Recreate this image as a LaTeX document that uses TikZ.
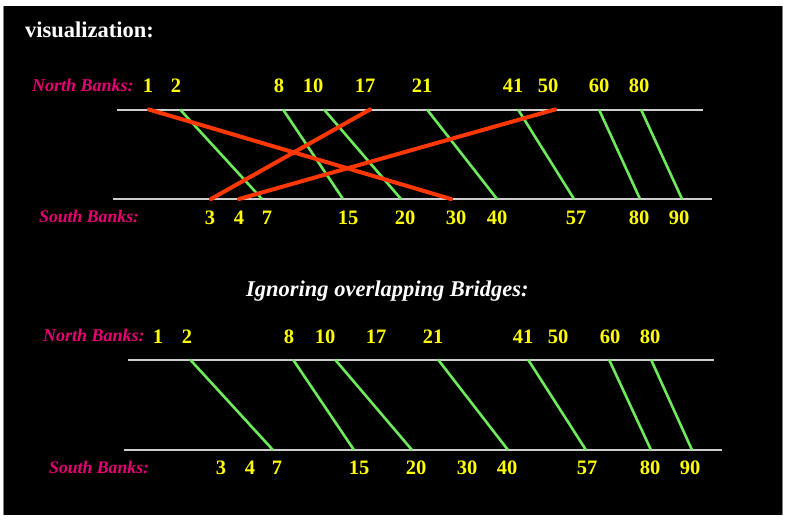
\documentclass[tikz,border=0pt]{standalone}
\usepackage{fontspec}
\setmainfont{Liberation Serif}
\definecolor{bankpink}{RGB}{230,0,115}
\definecolor{numyellow}{RGB}{255,255,0}
\definecolor{bridgegreen}{RGB}{110,235,90}
\definecolor{crossred}{RGB}{255,55,0}
\definecolor{banklinegray}{RGB}{205,205,205}
\tikzset{
  num/.style={text=numyellow, font=\fontsize{20.5}{20.5}\selectfont\bfseries, inner sep=0pt},
  banklabel/.style={text=bankpink, font=\fontsize{18}{18}\selectfont\bfseries\itshape, inner sep=0pt, anchor=base west},
  heading/.style={text=white, font=\fontsize{22.5}{22.5}\selectfont\bfseries, inner sep=0pt, anchor=base west},
  bankline/.style={draw=banklinegray, line width=2pt},
  okbridge/.style={draw=bridgegreen, line width=2.6pt},
  badbridge/.style={draw=crossred, line width=4pt, line cap=round},
}
\begin{document}
\begin{tikzpicture}[x=1pt, y=-1pt]
\useasboundingbox (0,0) rectangle (790,520);
\fill[white] (0,0) rectangle (790,520);
\fill[black] (3,6) rectangle (783,515);
\draw[gray, line width=1.5pt] (3.5,6) -- (3.5,515);
\draw[gray, line width=1.5pt] (782.5,6) -- (782.5,515);

% headings
\node[heading] (title) at (25,37.5) {visualization:};
\node[heading, font=\fontsize{22.5}{22.5}\selectfont\bfseries\itshape] (ignore) at (246,296) {Ignoring overlapping Bridges:};

% ---------- top section ----------
\node[banklabel] (tnl) at (32,91) {North Banks:};
\node[banklabel, font=\fontsize{17.7}{17.7}\selectfont\bfseries\itshape] (tsl) at (39,222.7) {South Banks:};

\coordinate (tnA) at (117,109.5); \coordinate (tnB) at (703,109.5);
\coordinate (tsA) at (113,199);   \coordinate (tsB) at (712,199);
\draw[bankline] (tnA) -- (tnB);
\draw[bankline] (tsA) -- (tsB);

\foreach \n/\x in {1/148,2/176,8/279,10/313,17/365,21/422,41/513,50/548,60/599,80/639}
  \node[num] (tn\n) at (\x,85.5) {\n};
\foreach \n/\x in {3/210,4/239,7/267,15/348,20/405,30/456,40/497,57/576,80/639,90/679}
  \node[num] (ts\n) at (\x,218) {\n};

\foreach \n/\x in {1/149,2/180,8/283,10/324,17/370,21/427,41/518,50/555,60/599,80/641}
  \coordinate (tp\n) at (\x,109.5);
\foreach \n/\x in {3/211,4/239,7/262,15/343,20/401,30/451,40/497,57/574,80/640,90/682}
  \coordinate (tq\n) at (\x,199);

\draw[okbridge] (tp2) -- (tq7);
\draw[okbridge] (tp8) -- (tq15);
\draw[okbridge] (tp10) -- (tq20);
\draw[okbridge] (tp21) -- (tq40);
\draw[okbridge] (tp41) -- (tq57);
\draw[okbridge] (tp60) -- (tq80);
\draw[okbridge] (tp80) -- (tq90);
\draw[badbridge] (tp1) -- (tq30);
\draw[badbridge] (tp17) -- (tq3);
\draw[badbridge] (tp50) -- (tq4);

% ---------- bottom section ----------
\node[banklabel] (bnl) at (43,341) {North Banks:};
\node[banklabel, font=\fontsize{17.7}{17.7}\selectfont\bfseries\itshape] (bsl) at (49,473) {South Banks:};

\coordinate (bnA) at (128,359.5); \coordinate (bnB) at (714,359.5);
\coordinate (bsA) at (124,450);   \coordinate (bsB) at (722,450);
\draw[bankline] (bnA) -- (bnB);
\draw[bankline] (bsA) -- (bsB);

\foreach \n/\x in {1/158,2/187,8/289,10/325,17/376,21/433,41/523,50/558,60/610,80/650}
  \node[num] (bn\n) at (\x,336.5) {\n};
\foreach \n/\x in {3/221,4/250,7/277,15/359,20/416,30/467,40/507,57/587,80/650,90/690}
  \node[num] (bs\n) at (\x,467.5) {\n};

\foreach \n/\x in {2/190,8/293,10/335,21/438,41/528,60/609,80/651}
  \coordinate (bp\n) at (\x,359.5);
\foreach \n/\x in {7/273,15/354,20/412,40/508,57/586,80/651,90/692}
  \coordinate (bq\n) at (\x,450);

\draw[okbridge] (bp2) -- (bq7);
\draw[okbridge] (bp8) -- (bq15);
\draw[okbridge] (bp10) -- (bq20);
\draw[okbridge] (bp21) -- (bq40);
\draw[okbridge] (bp41) -- (bq57);
\draw[okbridge] (bp60) -- (bq80);
\draw[okbridge] (bp80) -- (bq90);
\end{tikzpicture}
\end{document}
